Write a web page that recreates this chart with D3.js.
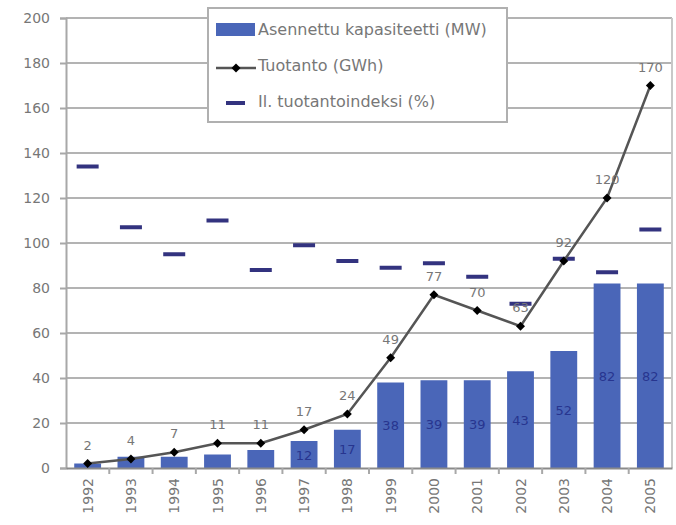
<!DOCTYPE html>
<html>
<head>
<meta charset="utf-8">
<script src="https://cdn.jsdelivr.net/npm/d3@7/dist/d3.min.js"></script>
<style>
  html, body { margin: 0; padding: 0; background: #fff; }
  svg { display: block; font-family: "DejaVu Sans", Verdana, sans-serif; }
</style>
</head>
<body>
<svg id="chart" width="676" height="525"></svg>
<script>
const years = ["1992","1993","1994","1995","1996","1997","1998","1999","2000","2001","2002","2003","2004","2005"];
const capacity = [2, 5, 5, 6, 8, 12, 17, 38, 39, 39, 43, 52, 82, 82];
const production = [2, 4, 7, 11, 11, 17, 24, 49, 77, 70, 63, 92, 120, 170];
const productionIndex = [134, 107, 95, 110, 88, 99, 92, 89, 91, 85, 73, 93, 87, 106];
const yTicks = [0, 20, 40, 60, 80, 100, 120, 140, 160, 180, 200];
const legendLabels = ["Asennettu kapasiteetti (MW)", "Tuotanto (GWh)", "Il. tuotantoindeksi (%)"];

const svg = d3.select("#chart");
const m = { left: 66, right: 4, top: 18, bottom: 57 };
const W = 676, H = 525;

const x = d3.scaleBand().domain(years).range([m.left, W - m.right]).paddingInner(0.38).paddingOuter(0.19);
const xb = d3.scaleBand().domain(years).range([m.left, W - m.right]);
const y = d3.scaleLinear().domain([0, 200]).range([H - m.bottom, m.top]);

// gridlines
svg.append("g").selectAll("line").data(yTicks.filter(d => d > 0)).join("line")
  .attr("x1", m.left).attr("x2", W - m.right)
  .attr("y1", d => y(d)).attr("y2", d => y(d))
  .attr("stroke", "#b3b3b3").attr("stroke-width", 2);

// right border
svg.append("line").attr("x1", W - m.right).attr("x2", W - m.right)
  .attr("y1", y(200)).attr("y2", y(0)).attr("stroke", "#c8c8c8").attr("stroke-width", 2);

// y axis
const yAxis = d3.axisLeft(y).tickValues(yTicks).tickSize(6).tickPadding(10);
const gy = svg.append("g").attr("transform", `translate(${m.left},0)`).call(yAxis);
gy.select(".domain").attr("stroke", "#a8a8a8").attr("stroke-width", 2);
gy.selectAll(".tick line").attr("stroke", "#a8a8a8").attr("stroke-width", 2);
gy.selectAll("text").attr("font-size", 14).attr("fill", "#777")
  .attr("font-family", "DejaVu Sans, sans-serif");

// bars
svg.append("g").selectAll("rect").data(years).join("rect")
  .attr("x", d => x(d)).attr("width", x.bandwidth())
  .attr("y", (d, i) => y(capacity[i])).attr("height", (d, i) => y(0) - y(capacity[i]))
  .attr("fill", "#4a66b8");

// bar labels
svg.append("g").selectAll("text").data(years).join("text")
  .attr("x", d => x(d) + x.bandwidth() / 2)
  .attr("y", (d, i) => (y(capacity[i]) + y(0)) / 2 + 5)
  .attr("text-anchor", "middle").attr("font-size", 13)
  .attr("fill", "#27358f")
  .text((d, i) => capacity[i] >= 10 ? capacity[i] : "");

// x axis
const xAxis = d3.axisBottom(xb).tickSize(0).tickPadding(0).tickFormat("");
const gx = svg.append("g").attr("transform", `translate(0,${y(0)})`).call(xAxis);
gx.select(".domain").attr("stroke", "#8a8a8a").attr("stroke-width", 2);
// category boundary ticks
svg.append("g").selectAll("line").data(years.slice(1)).join("line")
  .attr("x1", d => xb(d)).attr("x2", d => xb(d))
  .attr("y1", y(0)).attr("y2", y(0) + 6)
  .attr("stroke", "#a8a8a8").attr("stroke-width", 2);

svg.append("g").selectAll("text").data(years).join("text")
  .attr("transform", d => `translate(${xb(d) + xb.bandwidth() / 2 + 5},${y(0) + 10}) rotate(-90)`)
  .attr("text-anchor", "end").attr("font-size", 14).attr("fill", "#777")
  .text(d => d);

// production index dashes
svg.append("g").selectAll("rect").data(years).join("rect")
  .attr("x", d => x(d) + x.bandwidth() / 2 - 11).attr("width", 22)
  .attr("y", (d, i) => y(productionIndex[i]) - 2).attr("height", 4)
  .attr("fill", "#33337f");

// production line
const line = d3.line().x((d, i) => x(years[i]) + x.bandwidth() / 2).y(d => y(d));
svg.append("path").datum(production).attr("d", line)
  .attr("fill", "none").attr("stroke", "#555").attr("stroke-width", 2.5);
const sym = d3.symbol().type(d3.symbolSquare).size(40);
svg.append("g").selectAll("path").data(production).join("path")
  .attr("transform", (d, i) => `translate(${x(years[i]) + x.bandwidth() / 2},${y(d)}) rotate(45)`)
  .attr("d", sym).attr("fill", "#000");
svg.append("g").selectAll("text").data(production).join("text")
  .attr("x", (d, i) => x(years[i]) + x.bandwidth() / 2)
  .attr("y", d => y(d) - 14)
  .attr("text-anchor", "middle").attr("font-size", 13).attr("fill", "#777")
  .text(d => d);

// legend
const lg = svg.append("g");
lg.append("rect").attr("x", 208).attr("y", 8).attr("width", 299).attr("height", 114)
  .attr("fill", "#fff").attr("stroke", "#b0b0b0").attr("stroke-width", 2);
lg.append("rect").attr("x", 216).attr("y", 23).attr("width", 39).attr("height", 13).attr("fill", "#4a66b8");
lg.append("line").attr("x1", 216).attr("x2", 256).attr("y1", 68).attr("y2", 68)
  .attr("stroke", "#555").attr("stroke-width", 2.5);
lg.append("path").attr("transform", "translate(236,68) rotate(45)").attr("d", sym).attr("fill", "#000");
lg.append("rect").attr("x", 226).attr("y", 101).attr("width", 19).attr("height", 4).attr("fill", "#33337f");
lg.selectAll("text.lbl").data(legendLabels).join("text").attr("class", "lbl")
  .attr("x", 258).attr("y", (d, i) => 35 + i * 36)
  .attr("font-size", 16).attr("fill", "#777")
  .text(d => d);
</script>
</body>
</html>
